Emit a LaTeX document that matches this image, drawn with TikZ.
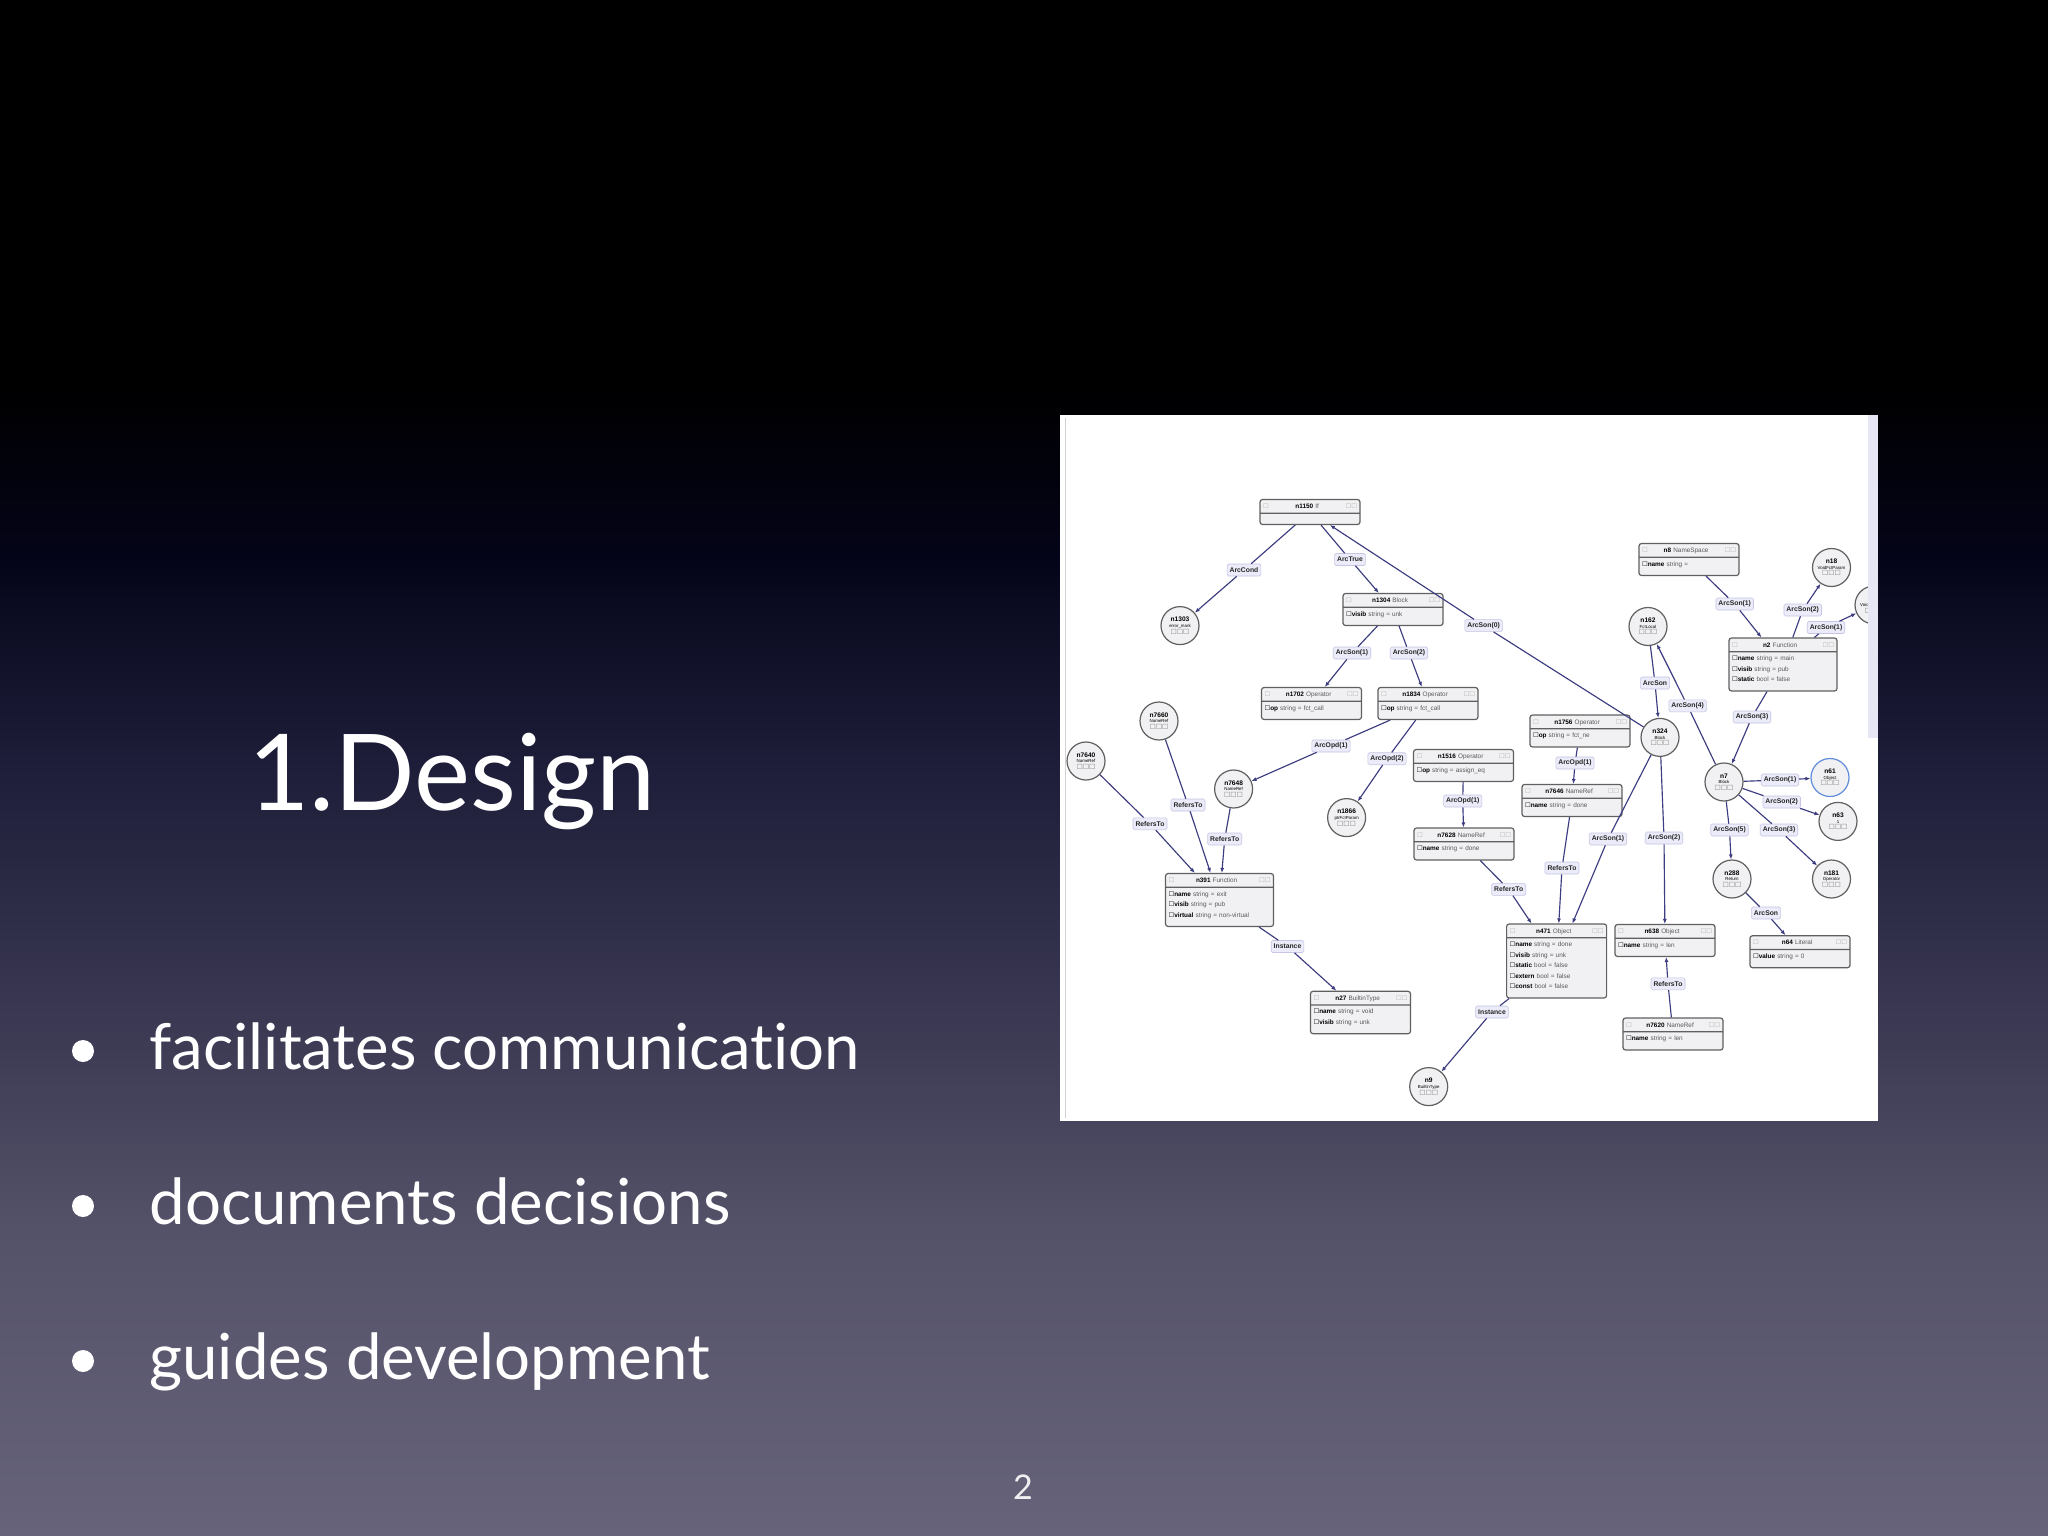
\documentclass[tikz,border=0pt]{standalone}
\usepackage{fontspec}
\setmainfont{Lato}[Ligatures=NoCommon]
\newfontfamily\graphfont{Liberation Sans}
\newfontfamily\symfont{DejaVu Sans}
\usetikzlibrary{shapes.multipart,arrows.meta}

\definecolor{bgtop}{RGB}{0,0,0}
\definecolor{bgdark}{RGB}{4,4,24}
\definecolor{bgnavy}{RGB}{30,30,58}
\definecolor{bgmid}{RGB}{56,54,80}
\definecolor{bglow}{RGB}{84,82,104}
\definecolor{bgbot}{RGB}{102,99,122}
\definecolor{edgeblue}{RGB}{60,60,128}
\definecolor{nodegray}{RGB}{96,96,96}
\definecolor{nodefill}{RGB}{241,241,243}
\definecolor{labelfill}{RGB}{235,235,249}
\definecolor{labeldraw}{RGB}{198,198,228}
\definecolor{scrollbar}{RGB}{230,230,244}
\definecolor{bluering}{RGB}{96,140,220}

% the path box takes the middle band 25bp..75bp of the shading
\pgfdeclareverticalshading{slidebg}{100bp}{color(0bp)=(bgbot); color(25bp)=(bgbot); color(35bp)=(bglow); color(42.5bp)=(bgmid); color(50bp)=(bgnavy); color(57bp)=(bgdark); color(62.5bp)=(bgtop); color(100bp)=(bgtop)}

\newcommand{\chk}{{\symfont ☐}}
\newcommand{\hdr}[2]{{\color{gray!60}\chk}\hfill\textbf{#1}\ {\color{black!65}#2}\hfill{\color{gray!60}\chk\chk}\strut}
\newcommand{\att}[2]{\chk\textbf{#1}\ {\color{black!65}#2}\strut}
\newcommand{\ftr}{\\[-6pt]\strut}
\newcommand{\blobtext}[2]{\textbf{#1}\\[-1pt]{\fontsize{4.4}{5}\selectfont #2}\\[0pt]{\color{gray}\fontsize{7}{7}\selectfont\chk\chk\chk}}

\begin{document}
\begin{tikzpicture}[x=1pt,y=-1pt,>={Latex[length=5pt,width=4pt]},
  obj/.style={rectangle split,rectangle split parts=2,draw=nodegray,fill=nodefill,
    rounded corners=2.5pt,line width=1.2pt,text width=94pt,inner xsep=3pt,inner ysep=1pt,
    font=\graphfont\fontsize{6.4}{10.5}\selectfont},
  blob/.style={circle,draw=nodegray,fill=nodefill,line width=1.2pt,minimum size=38pt,
    inner sep=0pt,align=center,font=\graphfont\fontsize{6.6}{6.6}\selectfont},
  lbl/.style={draw=labeldraw,fill=labelfill,rounded corners=1.5pt,line width=0.6pt,
    inner xsep=2.5pt,inner ysep=0pt,minimum height=12pt,
    font=\graphfont\bfseries\fontsize{6.8}{7}\selectfont,text=black!85},
  conn/.style={draw=edgeblue,line width=1.15pt,->}]
\useasboundingbox (0,0) rectangle (2048,1536);
\fill[shading=slidebg] (0,0) rectangle (2048,1536);

% title and bullets
\node[anchor=base,font=\fontsize{106}{106}\selectfont,text=white] (title) at (452,810) {1.Design};
\foreach \y/\t in {1069/facilitates communication,1224/documents decisions,1379/guides development}
 {\node[circle,fill=white,minimum size=22pt,inner sep=0pt] (dot\y) at (83,\y-18) {};
  \node[anchor=base west,font=\fontsize{63.5}{63.5}\selectfont,text=white] (item\y) at (146,\y) {\t};
 };
\node[anchor=base,font=\fontsize{34}{34}\selectfont,text=white!88!gray] (pgnum) at (1023,1499) {2};

% screenshot
\fill[white] (1060,415) rectangle (1878,1121);
\draw[gray!35,line width=1pt] (1065,418) -- (1065,1118);
\begin{scope}
\clip (1060,415) rectangle (1868,1121);

\node[obj] (n1150) at (1310,512) {\hdr{n1150}{If}\nodepart{two}\rule{0pt}{8pt}};
\node[obj] (n1304) at (1393,609.5) {\hdr{n1304}{Block}\nodepart{two}\att{visib}{string = unk}\ftr};
\node[obj] (n1702) at (1311.5,703.5) {\hdr{n1702}{Operator}\nodepart{two}\att{op}{string = fct\_call}\ftr};
\node[obj] (n1834) at (1428,703.5) {\hdr{n1834}{Operator}\nodepart{two}\att{op}{string = fct\_call}\ftr};
\node[obj] (n1756) at (1580,731) {\hdr{n1756}{Operator}\nodepart{two}\att{op}{string = fct\_ne}\ftr};
\node[obj] (n1516) at (1463.5,765.5) {\hdr{n1516}{Operator}\nodepart{two}\att{op}{string = assign\_eq}\ftr};
\node[obj] (n7646) at (1572,800.5) {\hdr{n7646}{NameRef}\nodepart{two}\att{name}{string = done}\ftr};
\node[obj] (n7628) at (1464,844) {\hdr{n7628}{NameRef}\nodepart{two}\att{name}{string = done}\ftr};
\node[obj,text width=102pt] (n391) at (1219.5,900) {\hdr{n391}{Function}\nodepart{two}\att{name}{string = exit}\\
  \att{visib}{string = pub}\\ \att{virtual}{string = non-virtual}\ftr};
\node[obj] (n27) at (1360.5,1012.5) {\hdr{n27}{BuiltinType}\nodepart{two}\att{name}{string = void}\\
  \att{visib}{string = unk}\ftr};
\node[obj] (n471) at (1556.6,961) {\hdr{n471}{Object}\nodepart{two}\att{name}{string = done}\\
  \att{visib}{string = unk}\\ \att{static}{bool = false}\\ \att{extern}{bool = false}\\
  \att{const}{bool = false}\ftr};
\node[obj] (n638) at (1665,940.5) {\hdr{n638}{Object}\nodepart{two}\att{name}{string = len}\ftr};
\node[obj] (n7620) at (1673,1034) {\hdr{n7620}{NameRef}\nodepart{two}\att{name}{string = len}\ftr};
\node[obj] (n64) at (1800,951.7) {\hdr{n64}{Literal}\nodepart{two}\att{value}{string = 0}\ftr};
\node[obj] (n8) at (1689,559.5) {\hdr{n8}{NameSpace}\nodepart{two}\att{name}{string =}\ftr};
\node[obj,text width=102pt] (n2) at (1783,664.5) {\hdr{n2}{Function}\nodepart{two}\att{name}{string = main}\\
  \att{visib}{string = pub}\\ \att{static}{bool = false}\ftr};

\node[blob] (n1303) at (1180,625.6) {\blobtext{n1303}{error\_mark}};
\node[blob] (n7660) at (1159,721) {\blobtext{n7660}{NameRef}};
\node[blob] (n7640) at (1086,761) {\blobtext{n7640}{NameRef}};
\node[blob] (n7648) at (1233.6,789) {\blobtext{n7648}{NameRef}};
\node[blob] (n1866) at (1346.6,817.6) {\blobtext{n1866}{ptrFctParam}};
\node[blob] (n162) at (1648,626.5) {\blobtext{n162}{FctLocal}};
\node[blob] (n324) at (1660,737.4) {\blobtext{n324}{Block}};
\node[blob] (n7) at (1724,782) {\blobtext{n7}{Block}};
\node[blob,draw=bluering] (n61) at (1830,777.5) {\blobtext{n61}{Object}};
\node[blob] (n63) at (1838,821.4) {\blobtext{n63}{1}};
\node[blob] (n181) at (1831.5,879) {\blobtext{n181}{Operator}};
\node[blob] (n288) at (1732,879) {\blobtext{n288}{Return}};
\node[blob] (n18) at (1831.5,567.5) {\blobtext{n18}{VoidFctParam}};
\node[blob] (n19) at (1874,605) {\blobtext{n19}{VoidFctParam}};
\node[blob] (n9) at (1428.7,1086.6) {\blobtext{n9}{BuiltinType}};

\node[lbl] (lCond) at (1244,570) {ArcCond};
\node[lbl] (lTrue) at (1350,559.5) {ArcTrue};
\node[lbl] (lSonZ) at (1483.6,625.6) {ArcSon(0)};
\node[lbl] (lSonA) at (1352,653) {ArcSon(1)};
\node[lbl] (lSonB) at (1409,653) {ArcSon(2)};
\node[lbl] (lOpdA) at (1331,746) {ArcOpd(1)};
\node[lbl] (lOpdB) at (1387,758.7) {ArcOpd(2)};
\node[lbl] (lOpdC) at (1462.7,801) {ArcOpd(1)};
\node[lbl] (lOpdD) at (1575,763) {ArcOpd(1)};
\node[lbl] (lRefA) at (1150,823.8) {RefersTo};
\node[lbl] (lRefB) at (1188,805) {RefersTo};
\node[lbl] (lRefC) at (1224.7,839) {RefersTo};
\node[lbl] (lInstA) at (1287.5,946.5) {Instance};
\node[lbl] (lRefD) at (1508.7,889.4) {RefersTo};
\node[lbl] (lRefE) at (1562,868) {RefersTo};
\node[lbl] (lSonC) at (1608,839) {ArcSon(1)};
\node[lbl] (lSonD) at (1664,838) {ArcSon(2)};
\node[lbl] (lRefF) at (1668,983.8) {RefersTo};
\node[lbl] (lInstB) at (1492,1012) {Instance};
\node[lbl] (lSonE) at (1655,683) {ArcSon};
\node[lbl] (lSonF) at (1687.6,705.8) {ArcSon(4)};
\node[lbl] (lSonG) at (1734.7,604) {ArcSon(1)};
\node[lbl] (lSonH) at (1802.7,610) {ArcSon(2)};
\node[lbl] (lSonI) at (1826,627.5) {ArcSon(1)};
\node[lbl] (lSonJ) at (1752,717) {ArcSon(3)};
\node[lbl] (lSonK) at (1780,780) {ArcSon(1)};
\node[lbl] (lSonL) at (1781.7,802) {ArcSon(2)};
\node[lbl] (lSonM) at (1729.5,830) {ArcSon(5)};
\node[lbl] (lSonN) at (1779,830) {ArcSon(3)};
\node[lbl] (lSonO) at (1766,913) {ArcSon};

\draw[conn] (n1150) -- (lCond) -- (n1303);
\draw[conn] (n1150) -- (lTrue) -- (n1304);
\draw[conn] (n324) -- (lSonZ) -- (n1150);
\draw[conn] (n1304) -- (lSonA) -- (n1702);
\draw[conn] (n1304) -- (lSonB) -- (n1834);
\draw[conn] (n1834) -- (lOpdA) -- (n7648);
\draw[conn] (n1834) -- (lOpdB) -- (n1866);
\draw[conn] (n1516) -- (lOpdC) -- (n7628);
\draw[conn] (n1756) -- (lOpdD) -- (n7646);
\draw[conn] (n7640) -- (lRefA) -- (n391);
\draw[conn] (n7660) -- (lRefB) -- (n391);
\draw[conn] (n7648) -- (lRefC) -- (n391);
\draw[conn] (n391) -- (lInstA) -- (n27);
\draw[conn] (n7628) -- (lRefD) -- (n471);
\draw[conn] (n7646) -- (lRefE) -- (n471);
\draw[conn] (n324) -- (lSonC) -- (n471);
\draw[conn] (n324) -- (lSonD) -- (n638);
\draw[conn] (n7620) -- (lRefF) -- (n638);
\draw[conn] (n471) -- (lInstB) -- (n9);
\draw[conn] (n162) -- (lSonE) -- (n324);
\draw[conn] (n7) -- (lSonF) -- (n162);
\draw[conn] (n8) -- (lSonG) -- (n2);
\draw[conn] (n2) -- (lSonH) -- (n18);
\draw[conn] (n2) -- (lSonI) -- (n19);
\draw[conn] (n2) -- (lSonJ) -- (n7);
\draw[conn] (n7) -- (lSonK) -- (n61);
\draw[conn] (n7) -- (lSonL) -- (n63);
\draw[conn] (n7) -- (lSonM) -- (n288);
\draw[conn] (n7) -- (lSonN) -- (n181);
\draw[conn] (n288) -- (lSonO) -- (n64);
\end{scope}
\fill[scrollbar] (1868,415) rectangle (1878,738);
\end{tikzpicture}
\end{document}
